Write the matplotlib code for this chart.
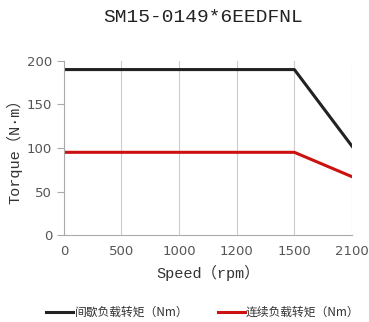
import matplotlib
matplotlib.use("Agg")
import matplotlib.pyplot as plt

speeds = ["0", "500", "1000", "1200", "1500", "2100"]
peak = [190, 190, 190, 190, 190, 102]
cont = [95, 95, 95, 95, 95, 67]
title = "SM15-0149*6EEDFNL"
labels = ["间歇负载转矩（Nm）", "连续负载转矩（Nm）"]

fig = plt.figure(figsize=(3.69, 3.22), dpi=100)
ax = fig.add_axes([0.173, 0.270, 0.781, 0.541])
x = list(range(len(speeds)))
ax.plot(x, peak, color="#222222", lw=2.2, label=labels[0])
ax.plot(x, cont, color="#cc1111", lw=2.2, label=labels[1])
ax.set_xlim(0, len(speeds) - 1)
ax.set_ylim(0, 200)
ax.set_yticks([0, 50, 100, 150, 200])
ax.set_xticks(x)
ax.set_xticklabels(speeds)
ax.grid(axis="x", color="#cccccc", lw=0.8)
for s in ["top", "right"]:
    ax.spines[s].set_visible(False)
for s in ["left", "bottom"]:
    ax.spines[s].set_color("#aaaaaa")
ax.tick_params(colors="#aaaaaa", labelcolor="#555555", labelsize=9.5, length=5, width=0.8)
ax.tick_params(axis="x", length=0, pad=7)
mono = ["Liberation Mono", "Noto Sans CJK SC"]
ax.set_xlabel("Speed（rpm）", family=mono, fontsize=11, color="#333333", labelpad=5)
ax.set_ylabel("Torque（N·m）", family=mono, fontsize=11, color="#333333", labelpad=3)
fig.text(0.55, 0.945, title, family="Liberation Mono", fontsize=14, color="#222222", ha="center", va="center")
leg = fig.legend(loc="center", bbox_to_anchor=(0.55, 0.03), ncol=2, frameon=False,
                 prop={"family": ["Noto Sans CJK SC", "DejaVu Sans"], "size": 8.5},
                 handlelength=2.3, handletextpad=0.1, columnspacing=2.5)
for t in leg.get_texts():
    t.set_color("#333333")
fig.savefig("out.png", dpi=100)
